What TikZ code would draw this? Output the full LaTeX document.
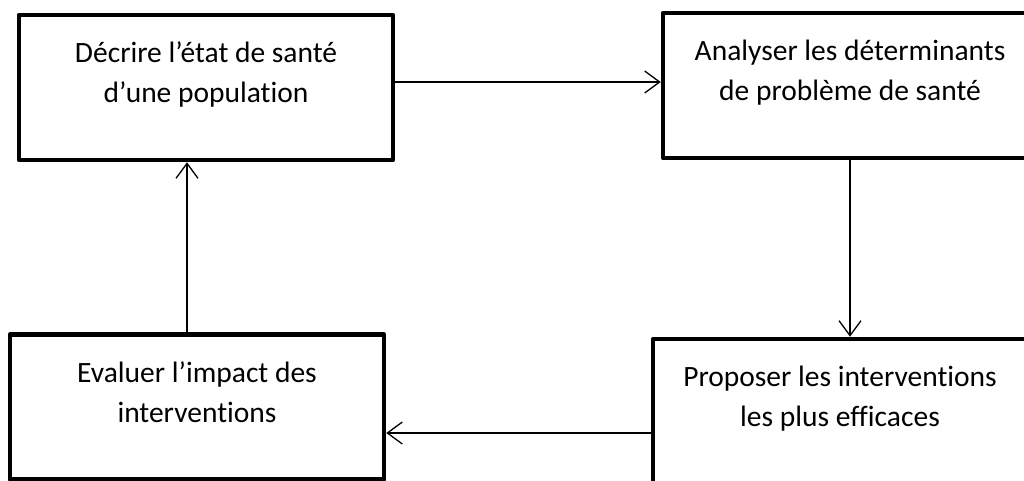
\documentclass[tikz,border=0pt]{standalone}
\usepackage{fontspec}
\setmainfont[Ligatures=NoCommon]{Carlito}
\usetikzlibrary{positioning,arrows.meta}
\tikzset{
  etape/.style={draw,line width=4.5pt,minimum width=374pt,minimum height=145pt,inner sep=0pt},
  texte/.style={align=center,inner sep=0pt,font=\fontsize{29.5pt}{40pt}\selectfont},
  fleche/.style={line width=1.3pt,-{Straight Barb[length=15pt,width=22pt]}}
}
\begin{document}
\begin{tikzpicture}[x=1pt,y=-1pt,line join=round,line cap=round]
	\useasboundingbox (0,0) rectangle (1024,481);
	\clip (0,0) rectangle (1024,481);
	
	\node[etape] (decrire) at (206,87.5) {};
	\node[etape] (analyser) at (850,85.5) {};
	\node[etape] (proposer) at (840,411.5) {};
	\node[etape] (evaluer) at (197,407) {};
	
	\node[texte,below=22pt of decrire.north] (tdecrire) {\strut Décrire l’état de santé\\d’une population};
	\node[texte,below=22pt of analyser.north] (tanalyser) {\strut Analyser les déterminants\\de problème de santé};
	\node[texte,below=22pt of proposer.north] (tproposer) {\strut Proposer les interventions\\les plus efficaces};
	\node[texte,below=22pt of evaluer.north] (tevaluer) {\strut Evaluer l’impact des\\interventions};
	
	\draw[fleche] ([yshift=5.5pt]decrire.east) -- ([yshift=5.5pt]decrire.east -| analyser.west);
	\draw[fleche] (analyser.south) -- (analyser.south |- proposer.north);
	\draw[fleche] ([yshift=-21.5pt]proposer.west) -- ([yshift=-21.5pt]proposer.west -| evaluer.east);
	\draw[fleche] ([xshift=-10pt]evaluer.north) -- ([xshift=-10pt]evaluer.north |- decrire.south);
\end{tikzpicture}
\end{document}
